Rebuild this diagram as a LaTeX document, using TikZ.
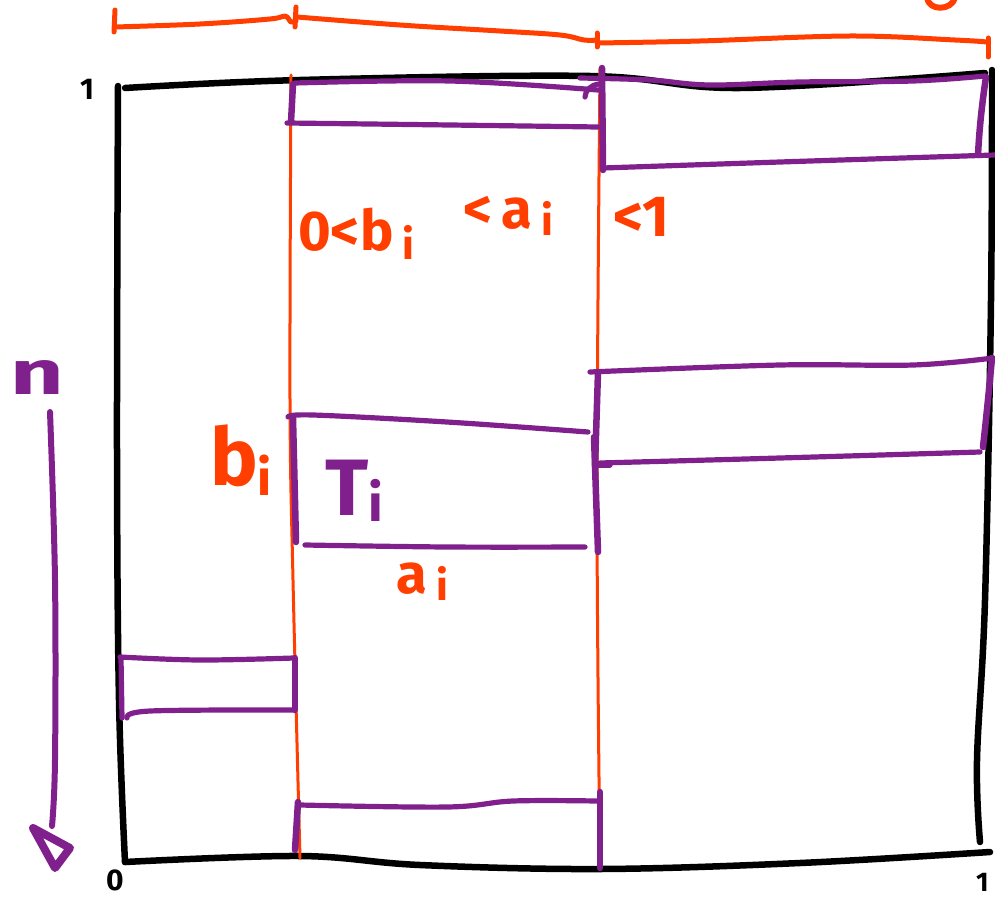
\documentclass[tikz,border=0pt]{standalone}
\usepackage{fontspec}
\setmainfont{Fira Sans}
\newcommand\subi[2]{\raisebox{#1}{\fontsize{#2}{#2}\selectfont i}}
\begin{document}
\begin{tikzpicture}[x=1pt,y=-1pt,line cap=round,line join=round]
\definecolor{redink}{RGB}{255,62,0}
\definecolor{purink}{RGB}{128,32,140}
\tikzset{
  frame/.style={line width=6.5pt,black},
  guide/.style={line width=3pt,redink},
  dimline/.style={line width=5pt,redink},
  tile/.style={line width=5.2pt,purink},
  tileside/.style={line width=6.5pt,purink},
  redlab/.style={text=redink,inner sep=0pt,anchor=base west},
  purlab/.style={text=purink,inner sep=0pt,anchor=base west},
  blacklab/.style={text=black,inner sep=0pt,anchor=base west},
}
\useasboundingbox (0,0) rectangle (995,899);

% unit square
\draw[frame] plot[smooth,tension=0.6] coordinates {(125,88) (300,80) (590,76) (740,88) (985,73)};
\draw[frame] plot[smooth,tension=0.6] coordinates {(118,86) (117,450) (119,700) (125,862)};
\draw[frame] plot[smooth,tension=0.6] coordinates {(125,862) (300,856) (420,865) (600,869) (800,863) (990,852)};
\draw[frame] plot[smooth,tension=0.6] coordinates {(992,70) (991,300) (985,600) (977,760) (980,842)};

% column boundaries
\draw[guide] plot[smooth,tension=0.6] coordinates {(291,75) (290,400) (293,580) (300,858)};
\draw[guide] plot[smooth,tension=0.6] coordinates {(600,68) (597,500) (600,862)};

% column widths along the top
\draw[dimline] (115,10) -- (114,32);
\draw[dimline] plot[smooth,tension=0.6] coordinates {(115,27) (200,24) (270,19) (285,16) (291,22) (296,21)};
\draw[dimline] (296,7) -- (295,27);
\draw[dimline] plot[smooth,tension=0.6] coordinates {(297,17) (400,25) (500,31) (560,35) (584,40) (597,40)};
\draw[dimline] (597,33) -- (597,47);
\draw[dimline] plot[smooth,tension=0.6] coordinates {(597,43) (700,41) (850,36) (955,40) (987,42)};
\draw[dimline] (988,38) -- (988,57);
\draw[line width=6pt,redink] (927,-2) .. controls (929,11) and (951,11) .. (955,-2);

% rectangles
% first column
\draw[tile] plot[smooth,tension=0.6] coordinates {(120,657) (200,660) (294,658)};
\draw[tile] (121,657) -- (122,718);
\draw[tile] plot[smooth,tension=0.6] coordinates {(127,718) (150,711) (293,710)};
\draw[tileside] (295,658) -- (295,710);
% second column
\draw[tile] plot[smooth,tension=0.6] coordinates {(295,83) (450,81) (598,90)};
\draw[tileside] (293,84) -- (291,122);
\draw[tile] plot[smooth,tension=0.6] coordinates {(287,123) (450,125) (598,127)};
\draw[tile] (585,97) .. controls (585,90) and (592,85) .. (598,84);
\draw[tile] plot[smooth,tension=0.6] coordinates {(288,417) (313,415) (447,422) (588,432)};
\draw[tileside] (293,418) -- (296,542);
\draw[tile] plot[smooth,tension=0.6] coordinates {(305,545) (447,547) (585,547)};
\draw[tileside] (594,437) -- (598,552);
\draw[tile] (598,465) -- (610,465);
\draw[tile] plot[smooth,tension=0.6] coordinates {(300,805) (447,807) (513,801) (597,801)};
\draw[tileside] (298,802) -- (295,850);
\draw[tileside] (600,792) -- (600,868);
% third column
\draw[tile] plot[smooth,tension=0.6] coordinates {(580,78) (650,80) (710,85) (800,82) (913,81) (985,76)};
\draw[tileside] (602,68) -- (603,170);
\draw[tile] plot[smooth,tension=0.6] coordinates {(603,168) (780,162) (995,155)};
\draw[tileside] (986,77) .. controls (981,110) and (979,135) .. (978,155);
\draw[tile] plot[smooth,tension=0.6] coordinates {(590,372) (780,365) (913,365) (993,358)};
\draw[tileside] (598,372) -- (595,467);
\draw[tile] plot[smooth,tension=0.6] coordinates {(600,463) (780,458) (980,452)};
\draw[tileside] (992,358) .. controls (989,390) and (986,420) .. (983,447);

% stacking direction
\draw[line width=6pt,purink] plot[smooth,tension=0.6] coordinates {(50,412) (55,580) (55,760) (52,826)};
\draw[line width=8pt,purink] (33,828) -- (70,848) -- (55,868) -- cycle;

% labels
\node[purlab,font=\fontsize{62}{62}\selectfont\bfseries] (n) at (10,394) {\scalebox{1.5}[1]{n}};
\node[blacklab,font=\fontsize{30}{30}\selectfont\bfseries] (one) at (80,99) {1};
\node[blacklab,font=\fontsize{30}{30}\selectfont\bfseries] (zero) at (106,890) {0};
\node[blacklab,font=\fontsize{27}{27}\selectfont\bfseries] (oneright) at (976,891) {1};

\node[redlab,font=\fontsize{56}{56}\selectfont\bfseries] (lowb) at (298,250) {0<b\,\subi{-9pt}{42}};
\node[redlab,font=\fontsize{56}{56}\selectfont\bfseries] (lowa) at (463,228) {<\,a\,\subi{-7pt}{42}};
\node[redlab,font=\fontsize{58}{58}\selectfont\bfseries] (lowone) at (613,236) {<1};
\node[redlab,font=\fontsize{80}{80}\selectfont\bfseries] (bi) at (210,485) {b\subi{-10pt}{50}};
\node[purlab,font=\fontsize{80}{80}\selectfont\bfseries] (Ti) at (325,515) {T\subi{-6pt}{52}};
\node[redlab,font=\fontsize{56}{56}\selectfont\bfseries] (ai) at (396,593) {a\,\subi{-7pt}{42}};
\end{tikzpicture}
\end{document}
